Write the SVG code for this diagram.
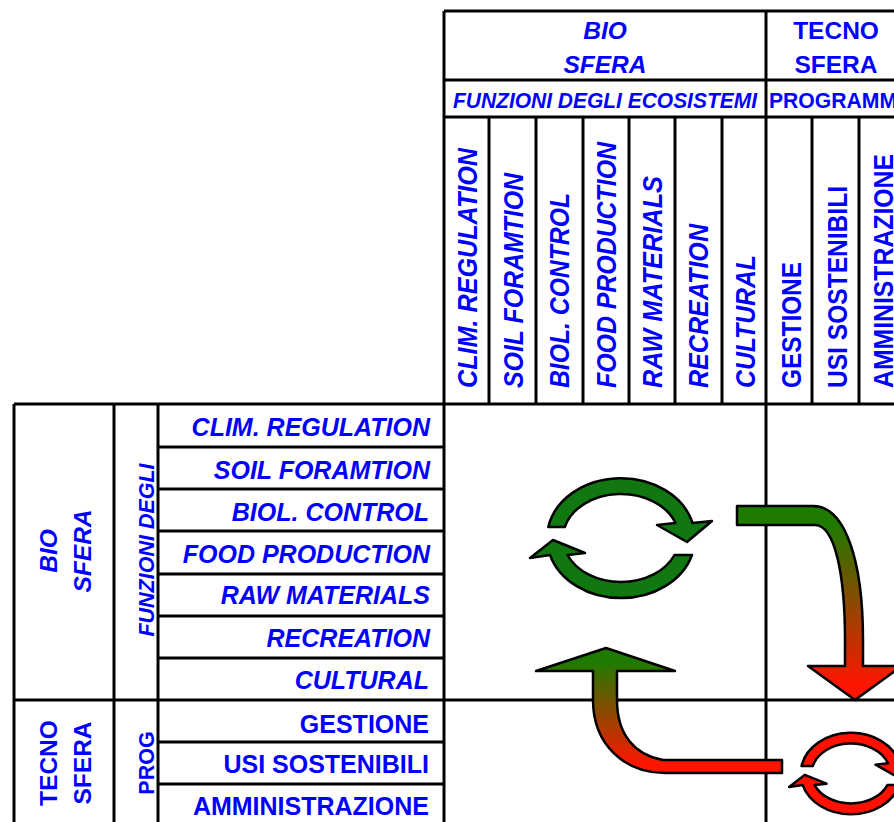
<svg xmlns="http://www.w3.org/2000/svg" xmlns:xlink="http://www.w3.org/1999/xlink" width="894" height="822" viewBox="0 0 894 822">
<style>
.ln{stroke:#000;stroke-width:3;fill:none}
.t{font-family:"Liberation Sans",Arial,sans-serif;font-weight:bold;fill:#0000ff}
.i{font-style:italic}
.arr{stroke:#000;stroke-width:2.5;stroke-linejoin:round}
</style>
<defs>
<linearGradient id="g1" gradientUnits="userSpaceOnUse" x1="0" y1="525" x2="0" y2="685">
<stop offset="0" stop-color="#1f7a00"/><stop offset="1" stop-color="#ff1500"/>
</linearGradient>
<linearGradient id="g2" gradientUnits="userSpaceOnUse" x1="0" y1="662" x2="0" y2="765">
<stop offset="0" stop-color="#1f7a00"/><stop offset="1" stop-color="#ff1500"/>
</linearGradient>
<g id="cyc">
<path vector-effect="non-scaling-stroke" d="M -72.7,-11 A 74 60 0 0 1 71.6,-15 L 91,-17 L 66,4 L 36,-13 L 54.5,-15 A 58 44 0 0 0 -56.2,-11 Z"/>
<path vector-effect="non-scaling-stroke" d="M 53.5,17 L 71,17 A 74 60 0 0 1 -71,17 L -91,20 L -68,2 L -36,15 L -53.5,17 A 58 44 0 0 0 53.5,17 Z"/>
</g>
</defs>
<rect width="894" height="822" fill="#fff"/>

<g id="grid" class="ln">
<path d="M444,11 H900 M444,80 H900 M444,117 H900 M14,404 H900 M14,700 H900"/>
<path d="M444,11 V830 M766,11 V830"/>
<path d="M489,117 V404 M536,117 V404 M583,117 V404 M629,117 V404 M675,117 V404 M722,117 V404 M812,117 V404 M859,117 V404"/>
<path d="M14,404 V830 M114,404 V830 M158,404 V830"/>
<path d="M158,447 H444 M158,489 H444 M158,531 H444 M158,574 H444 M158,616 H444 M158,658 H444 M158,742 H444 M158,784 H444"/>
</g>

<g id="hdr-bio">
<text class="t i" x="605" y="39" font-size="24.5" text-anchor="middle">BIO</text>
<text class="t i" x="605" y="73" font-size="24.5" text-anchor="middle">SFERA</text>
</g>
<g id="hdr-tecno">
<text class="t" x="836" y="39" font-size="24.5" text-anchor="middle">TECNO</text>
<text class="t" x="836" y="73" font-size="24.5" text-anchor="middle">SFERA</text>
</g>
<g id="hdr-funzioni"><text class="t i" x="453" y="108" font-size="22.5" textLength="304" lengthAdjust="spacingAndGlyphs">FUNZIONI DEGLI ECOSISTEMI</text></g>
<g id="hdr-prog"><text class="t" x="769" y="108" font-size="22" textLength="128" lengthAdjust="spacingAndGlyphs">PROGRAMM</text></g>

<g id="col-heads" font-size="28">
<text class="t i" transform="translate(477,388) rotate(-90)" textLength="240" lengthAdjust="spacingAndGlyphs">CLIM. REGULATION</text>
<text class="t i" transform="translate(523,388) rotate(-90)" textLength="215" lengthAdjust="spacingAndGlyphs">SOIL FORAMTION</text>
<text class="t i" transform="translate(569,388) rotate(-90)" textLength="195" lengthAdjust="spacingAndGlyphs">BIOL. CONTROL</text>
<text class="t i" transform="translate(616,388) rotate(-90)" textLength="246" lengthAdjust="spacingAndGlyphs">FOOD PRODUCTION</text>
<text class="t i" transform="translate(662,388) rotate(-90)" textLength="212" lengthAdjust="spacingAndGlyphs">RAW MATERIALS</text>
<text class="t i" transform="translate(708,388) rotate(-90)" textLength="164" lengthAdjust="spacingAndGlyphs">RECREATION</text>
<text class="t i" transform="translate(755,388) rotate(-90)" textLength="133" lengthAdjust="spacingAndGlyphs">CULTURAL</text>
<text class="t" transform="translate(801,388) rotate(-90)" textLength="126" lengthAdjust="spacingAndGlyphs">GESTIONE</text>
<text class="t" transform="translate(847,388) rotate(-90)" textLength="202" lengthAdjust="spacingAndGlyphs">USI SOSTENIBILI</text>
<text class="t" transform="translate(893,388) rotate(-90)" textLength="234" lengthAdjust="spacingAndGlyphs">AMMINISTRAZIONE</text>
</g>

<g id="side-bio">
<text class="t i" transform="translate(57,551) rotate(-90)" font-size="24.5" text-anchor="middle">BIO</text>
<text class="t i" transform="translate(91,551) rotate(-90)" font-size="24.5" text-anchor="middle">SFERA</text>
</g>
<g id="side-funzioni"><text class="t i" transform="translate(154,550) rotate(-90)" font-size="21.5" text-anchor="middle">FUNZIONI DEGLI</text></g>
<g id="side-tecno">
<text class="t" transform="translate(57,763) rotate(-90)" font-size="24.5" text-anchor="middle">TECNO</text>
<text class="t" transform="translate(91,763) rotate(-90)" font-size="24.5" text-anchor="middle">SFERA</text>
</g>
<g id="side-prog"><text class="t" transform="translate(154,763) rotate(-90)" font-size="21.5" text-anchor="middle">PROG</text></g>

<g id="row-heads" font-size="25" text-anchor="end">
<text class="t i" x="430" y="436">CLIM. REGULATION</text>
<text class="t i" x="430" y="479">SOIL FORAMTION</text>
<text class="t i" x="429" y="521">BIOL. CONTROL</text>
<text class="t i" x="430" y="563">FOOD PRODUCTION</text>
<text class="t i" x="430" y="604">RAW MATERIALS</text>
<text class="t i" x="430" y="647">RECREATION</text>
<text class="t i" x="429" y="689">CULTURAL</text>
<text class="t" x="429" y="733">GESTIONE</text>
<text class="t" x="429" y="773">USI SOSTENIBILI</text>
<text class="t" x="429" y="815">AMMINISTRAZIONE</text>
</g>

<g id="connectors">
<use xlink:href="#cyc" href="#cyc" class="arr" fill="#117811" transform="translate(621,538)"/>
<use xlink:href="#cyc" href="#cyc" class="arr" fill="#ff1000" stroke-width="3" transform="translate(851,773.5) scale(0.68)"/>
<path class="arr" fill="url(#g1)" d="M737,506 L813,506 C845,506 863,560 863,640 L863,666 L902,666 L855,700 L808,666 L845,666 L845,640 C845,575 835,525 815,525 L737,525 Z"/>
<path class="arr" fill="url(#g2)" d="M782,760 L663,760 C635,755 617,735 617,700 L617,671 L675,671 L606,648 L536,671 L593,671 L593,700 C593,745 625,773 665,773 L782,773 Z"/>
</g>
</svg>
